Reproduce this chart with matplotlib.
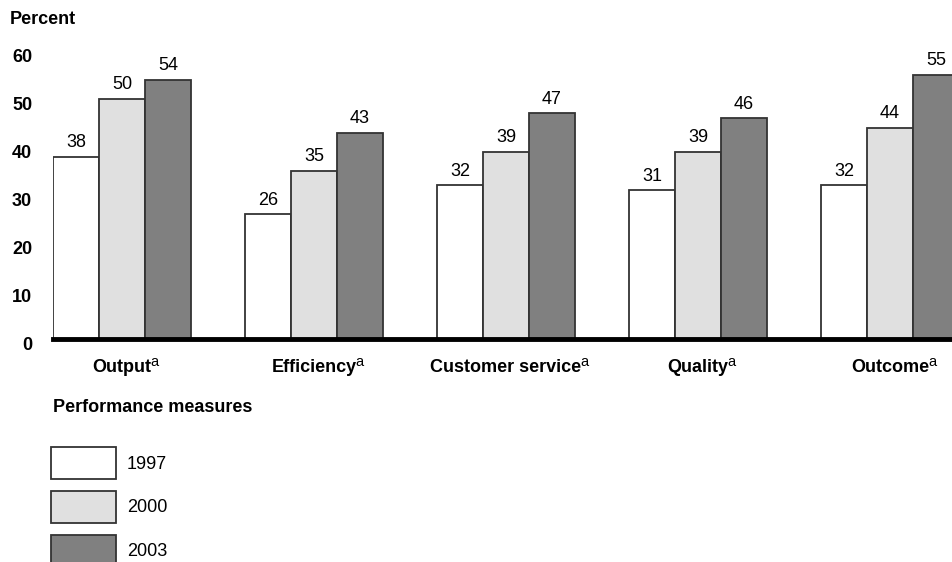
import numpy as np
import matplotlib
matplotlib.use("Agg")
import matplotlib.pyplot as plt
import matplotlib.transforms as mtransforms
from matplotlib.patches import Patch

categories = ["Output", "Efficiency", "Customer service", "Quality", "Outcome"]
years = ["1997", "2000", "2003"]
values_1997 = [38, 26, 32, 31, 32]
values_2000 = [50, 35, 39, 39, 44]
values_2003 = [54, 43, 47, 46, 55]
yticks = [0, 10, 20, 30, 40, 50, 60]

colors = ["#ffffff", "#e0e0e0", "#808080"]
edge = "#333333"
fs = 13

plt.rcParams.update({
    "font.family": ["Liberation Sans", "DejaVu Sans"],
    "font.size": fs,
})

W, H = 952, 562
fig = plt.figure(figsize=(W / 100, H / 100), dpi=100)

# axes runs past the right edge so the last group is cut off
left_px, right_px = 53, 952
base_px, top_px = 339, 51
ax = fig.add_axes([left_px / W, 1 - base_px / H,
                   (right_px - left_px) / W, (base_px - top_px) / H])

x = np.arange(len(categories))
width = 0.24
series = [values_1997, values_2000, values_2003]
for i, (vals, col) in enumerate(zip(series, colors)):
    pos = x + (i - 1) * width
    bars = ax.bar(pos, vals, width, color=col, edgecolor=edge, linewidth=1.3)
    for rect, v in zip(bars, vals):
        ax.annotate(str(v), (rect.get_x() + rect.get_width() / 2, v),
                    xytext=(0, 4), textcoords="offset points",
                    ha="center", va="bottom", fontsize=fs, annotation_clip=False)

ax.set_xlim(-0.359, 4.323)
ax.set_ylim(0, 60)
ax.set_yticks(yticks)
ax.set_yticklabels([str(t) for t in yticks], fontweight="bold", fontsize=fs)
ax.tick_params(axis="y", length=0, pad=15)
shift = mtransforms.ScaledTranslation(0, -4 / 100, fig.dpi_scale_trans)
for lbl in ax.get_yticklabels():
    lbl.set_transform(lbl.get_transform() + shift)
ax.set_xticks([])

# category names with a superscript note marker
for xc, name in zip(x, categories):
    t = ax.annotate(name, xy=(xc, 0), xycoords=("data", "axes fraction"),
                    xytext=(0, -28), textcoords="offset pixels",
                    ha="center", va="center", fontweight="bold", fontsize=fs,
                    annotation_clip=False)
    ax.annotate("a", xy=(1, 1), xycoords=t, xytext=(-1, 3),
                textcoords="offset pixels", ha="left", va="top",
                fontsize=10.5, annotation_clip=False)

for s in ["top", "right", "left"]:
    ax.spines[s].set_visible(False)
ax.spines["bottom"].set_linewidth(3.5)
ax.spines["bottom"].set_color("black")

fig.text(10 / W, 1 - 20 / H, "Percent", fontweight="bold", fontsize=fs,
         ha="left", va="center")
fig.text(53 / W, 1 - 408 / H, "Performance measures", fontweight="bold",
         fontsize=fs, ha="left", va="center")

handles = [Patch(facecolor=c, edgecolor=edge, linewidth=1.3) for c in colors]
fig.legend(handles, years, loc="upper left",
           bbox_to_anchor=(51 / W, 1 - 447 / H), frameon=False,
           borderpad=0, borderaxespad=0, handlelength=3.6, handleheight=2.35,
           labelspacing=0.66, handletextpad=0.61, fontsize=fs)

fig.savefig("out.png", dpi=100)
